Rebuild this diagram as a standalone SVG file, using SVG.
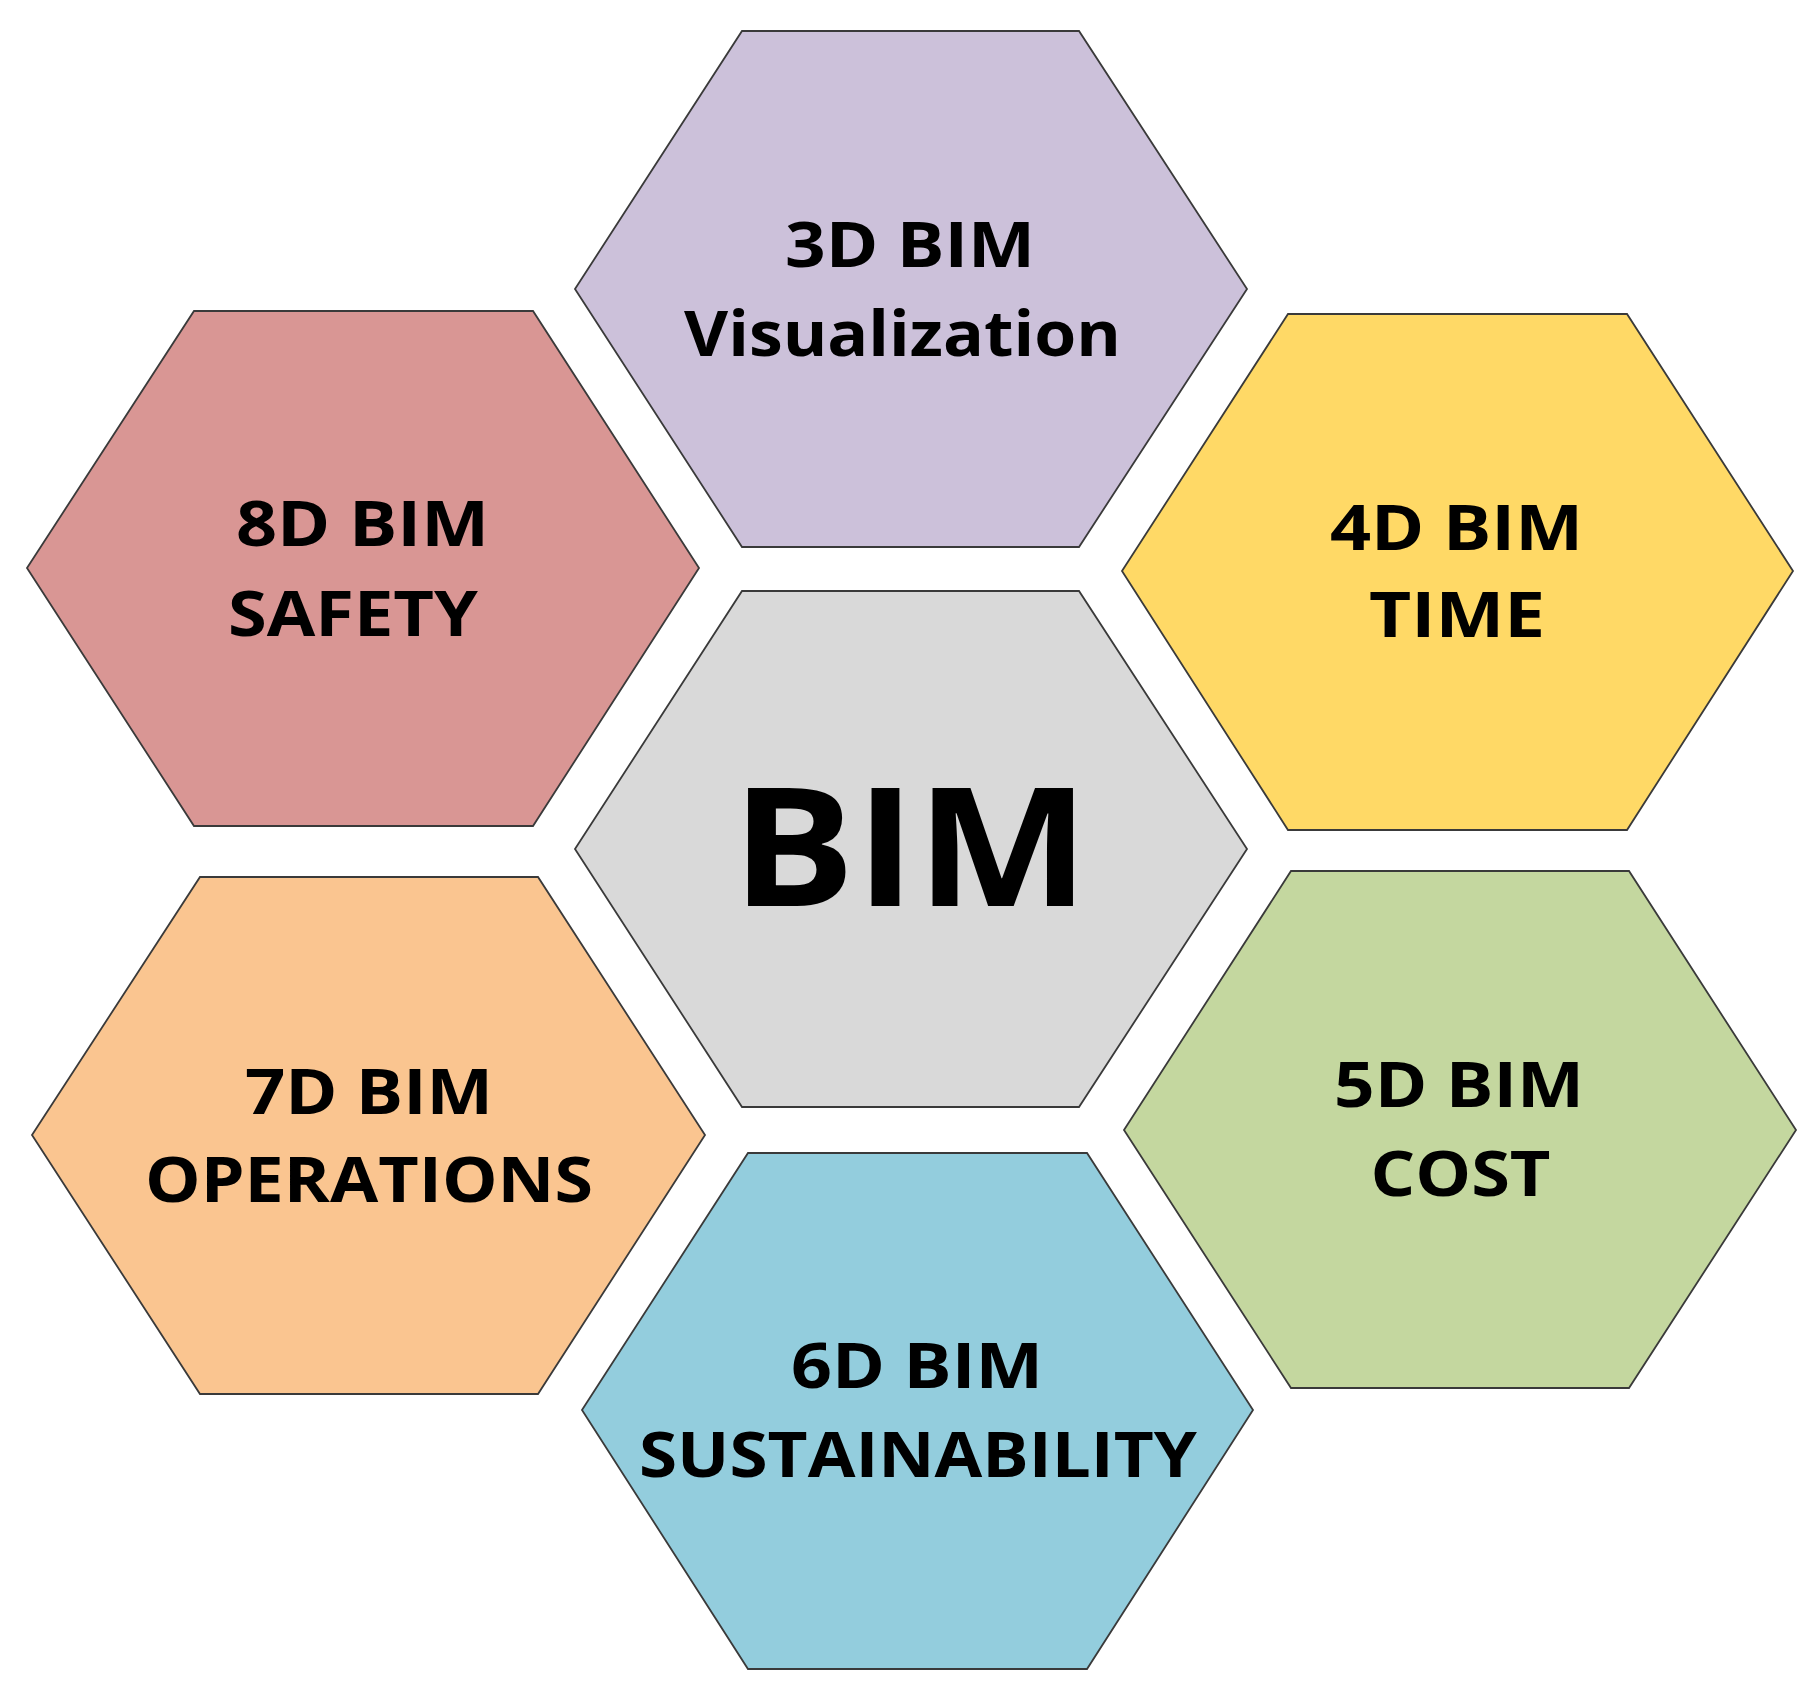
<svg xmlns="http://www.w3.org/2000/svg" width="1820" height="1702" viewBox="0 0 1820 1702">
<style>
.hex{stroke:#3a3a3a;stroke-width:1.8;stroke-linejoin:miter}
.lbl{font-family:"Open Sans","Noto Sans","Liberation Sans",sans-serif;font-weight:700;font-size:63px;fill:#000;text-anchor:middle}
.big{font-size:166px}
</style>
<rect width="1820" height="1702" fill="#ffffff"/>
<g id="connectors"/>
<g id="node-3d">
<polygon class="hex" fill="#CCC1DA" points="575,289 742,31 1079,31 1247,289 1079,547 742,547"/>
<text class="lbl" x="910" y="267" textLength="250" lengthAdjust="spacingAndGlyphs">3D BIM</text>
<text class="lbl" x="902.5" y="356" textLength="437" lengthAdjust="spacingAndGlyphs">Visualization</text>
</g>
<g id="node-bim">
<polygon class="hex" fill="#D9D9D9" points="575,849 742,591 1079,591 1247,849 1079,1107 742,1107"/>
<text class="lbl big" x="910.5" y="906" textLength="358" lengthAdjust="spacingAndGlyphs">BIM</text>
</g>
<g id="node-8d">
<polygon class="hex" fill="#D99694" points="27,568 194,311 533,311 699,568 533,826 194,826"/>
<text class="lbl" x="362.5" y="546" textLength="253" lengthAdjust="spacingAndGlyphs">8D BIM</text>
<text class="lbl" x="353" y="636" textLength="250" lengthAdjust="spacingAndGlyphs">SAFETY</text>
</g>
<g id="node-4d">
<polygon class="hex" fill="#FFD966" points="1122,571 1288,314 1627,314 1793,571 1627,830 1288,830"/>
<text class="lbl" x="1456.5" y="550" textLength="253" lengthAdjust="spacingAndGlyphs">4D BIM</text>
<text class="lbl" x="1457" y="637" textLength="176" lengthAdjust="spacingAndGlyphs">TIME</text>
</g>
<g id="node-7d">
<polygon class="hex" fill="#FAC590" points="32,1135 200,877 538,877 705,1135 538,1394 200,1394"/>
<text class="lbl" x="369" y="1114" textLength="248" lengthAdjust="spacingAndGlyphs">7D BIM</text>
<text class="lbl" x="369" y="1202" textLength="448" lengthAdjust="spacingAndGlyphs">OPERATIONS</text>
</g>
<g id="node-5d">
<polygon class="hex" fill="#C4D79F" points="1124,1130 1291,871 1629,871 1796,1130 1629,1388 1291,1388"/>
<text class="lbl" x="1459" y="1107" textLength="250" lengthAdjust="spacingAndGlyphs">5D BIM</text>
<text class="lbl" x="1460.5" y="1196" textLength="180" lengthAdjust="spacingAndGlyphs">COST</text>
</g>
<g id="node-6d">
<polygon class="hex" fill="#93CDDD" points="582,1410 748,1153 1087,1153 1253,1410 1087,1669 748,1669"/>
<text class="lbl" x="917" y="1388" textLength="252" lengthAdjust="spacingAndGlyphs">6D BIM</text>
<text class="lbl" x="918" y="1477" textLength="558" lengthAdjust="spacingAndGlyphs">SUSTAINABILITY</text>
</g>
</svg>
